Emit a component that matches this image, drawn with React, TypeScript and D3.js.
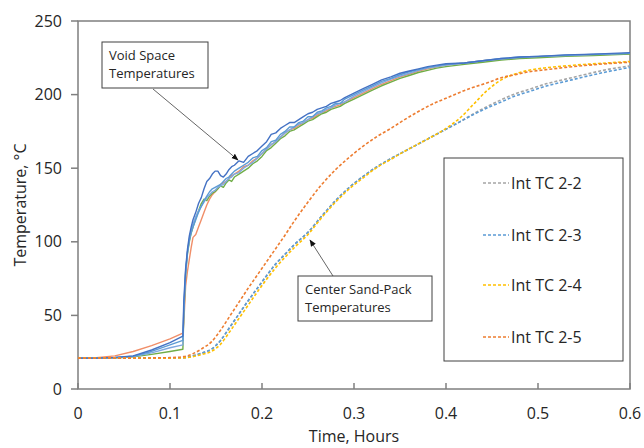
import React from "react";
import * as d3 from "d3";

const solidT = [0, 0.02, 0.04, 0.06, 0.08, 0.1, 0.114,
  0.115, 0.117, 0.119, 0.121, 0.123, 0.125,
  0.128, 0.131, 0.134, 0.137, 0.14, 0.143, 0.146, 0.149, 0.152, 0.155, 0.158, 0.161, 0.164, 0.167, 0.17,
  0.175, 0.18, 0.185, 0.19, 0.195, 0.2, 0.205, 0.21, 0.215, 0.22, 0.225, 0.23, 0.235, 0.24, 0.245, 0.25, 0.255, 0.26, 0.265, 0.27, 0.275, 0.28, 0.285, 0.29,
  0.3, 0.31, 0.32, 0.33, 0.34, 0.35, 0.36, 0.37, 0.38, 0.39, 0.4,
  0.42, 0.44, 0.46, 0.48, 0.5,
  0.53, 0.56, 0.6];

const voidDarkBlue = [21, 21, 21.5, 22.5, 26.5, 31.5, 36,
  60, 82, 95, 104, 110, 115,
  120, 126, 130, 136, 141, 143, 146, 148, 148, 145, 144, 146, 149, 151, 152,
  155, 154, 158, 160, 162, 165, 168, 173, 174, 177, 179, 181, 181, 183, 185, 187, 188, 190, 191, 192, 194, 195, 196, 198,
  201, 204, 207, 210, 212, 214.5, 216, 217.5, 219, 220, 221,
  221.5, 223, 224.5, 225.5, 226,
  227, 227.5, 228.5];

const voidLightBlue = [21, 21, 21.3, 22.3, 25.5, 30, 33,
  55, 80, 93, 101, 106, 110,
  115, 120, 124, 128, 131, 134, 136, 137, 138, 139, 141, 143, 144, 146, 148,
  150, 152, 154, 157, 158, 162, 164, 168, 169, 173, 175, 178, 178, 181, 182, 185, 185, 188, 189, 191, 192, 194, 194, 197,
  200, 203, 206, 209, 211, 213.5, 215.5, 217, 218.5, 219.5, 220.5,
  221.5, 223, 224.5, 225.5, 226,
  226.8, 227.3, 228];

const voidPaleBlue = [21, 21, 21.2, 22.1, 24.5, 28, 30,
  52, 79, 93, 102, 108, 112,
  117, 121, 124, 127, 130, 132, 134, 135, 137, 138, 139, 141, 143, 144, 146,
  147, 150, 152, 154, 157, 160, 163, 166, 168, 171, 174, 176, 178, 180, 181, 183, 185, 187, 188, 190, 191, 193, 194, 195,
  199, 202, 205, 208, 210.5, 212.5, 214.5, 216.5, 218, 219, 220,
  221.5, 223, 224.2, 225.2, 225.8,
  226.6, 227.2, 228];

const voidGreen = [21, 21, 21.1, 21.8, 23.5, 25.5, 27,
  50, 78, 92, 100, 106, 110,
  116, 121, 126, 129, 128, 131, 133, 134, 136, 138, 137, 140, 142, 141, 144,
  146, 148, 150, 153, 155, 158, 162, 164, 167, 170, 172, 175, 176, 178, 180, 182, 183, 185, 187, 188, 190, 191, 192, 194,
  197, 200, 203, 206, 208.5, 211, 213, 215, 216.5, 218, 219,
  220.5, 222, 223.5, 224.5, 225,
  226, 226.5, 227.5];

const voidOrange = [21, 21.2, 22.5, 25.5, 29.5, 34, 38,
  45, 70, 80, 88, 96, 103,
  105, 110, 115, 120, 125, 129, 132, 134, 136, 139, 140, 141, 143, 145, 146,
  148, 151, 152, 155, 157, 160, 163, 166, 168, 171, 174, 176, 177, 179, 181, 183, 184, 186, 188, 189, 191, 192, 193, 195,
  198, 201, 204, 207, 209.5, 212, 214, 216, 217.5, 218.8, 220,
  221.5, 223, 224, 225, 225.8,
  226.5, 227, 227.8];

const dashT = [0, 0.05, 0.1, 0.115, 0.125,
  0.135, 0.145, 0.155, 0.165, 0.175, 0.185, 0.195, 0.205, 0.215, 0.225, 0.235,
  0.25, 0.265, 0.28, 0.295, 0.31, 0.325, 0.34, 0.355, 0.37, 0.385, 0.4, 0.415, 0.43, 0.445, 0.46, 0.475, 0.49,
  0.51, 0.53, 0.55, 0.575, 0.6];

const tc22 = [21, 21, 21, 21.3, 22.5,
  24.5, 27, 33, 42, 51, 60, 68.5, 77, 85, 91.5, 98,
  106.5, 117.5, 128, 137, 144.5, 151, 156.5, 161.5, 166.5, 171.5, 176.5, 181.5, 187, 192, 196.5, 200.5, 203.5,
  207.5, 210.5, 213.5, 217, 219.5];

const tc23 = [21, 21, 21, 21.3, 22.5,
  24.5, 27, 33, 42, 51, 60, 68.5, 77, 85, 91.5, 98,
  106.5, 117.5, 128, 137, 144.5, 151, 156.5, 161.5, 166.5, 171.5, 176.5, 181.5, 186.5, 191, 195, 199, 202,
  206, 209, 212, 215.5, 218.5];

const tc24 = [21, 21, 21, 21.2, 22,
  23.5, 25.5, 30.5, 39, 48, 57, 66, 74.5, 82.5, 89.5, 96,
  105, 116.5, 127, 136, 143.5, 150.5, 156, 161.5, 166.5, 171.5, 177, 184, 193.5, 203, 210, 214, 216.5,
  218.3, 219.5, 220.5, 221.5, 222.5];

const tc25 = [21, 21, 21.3, 22, 24,
  27.5, 32, 40, 49.5, 59, 68.5, 77.5, 86.5, 95.5, 104.5, 114,
  127, 139, 149, 157.5, 165, 171.5, 177, 183, 188.5, 193.5, 197.5, 201.5, 205, 208, 211.5, 213.5, 215.5,
  217, 218.5, 219.7, 221, 222];

const xTicks = [0, 0.1, 0.2, 0.3, 0.4, 0.5, 0.6];
const yTicks = [0, 50, 100, 150, 200, 250];

const solidSeries = [
  { values: voidOrange, color: "#F08E68" },
  { values: voidGreen, color: "#70AD47" },
  { values: voidPaleBlue, color: "#7FA8E0" },
  { values: voidLightBlue, color: "#5B9BD5" },
  { values: voidDarkBlue, color: "#4472C4" },
];

const dashedSeries = [
  { name: "Int TC 2-2", values: tc22, color: "#A5A5A5" },
  { name: "Int TC 2-3", values: tc23, color: "#5B9BD5" },
  { name: "Int TC 2-4", values: tc24, color: "#FFC000" },
  { name: "Int TC 2-5", values: tc25, color: "#ED7D31" },
];

const W = 644, H = 448;
const L = 78, R = 630, T = 21, B = 389;
const FONT = "'Open Sans', sans-serif";
const AX = "#7F7F7F";
const TXT = "#262626";

export default function App() {
  const x = d3.scaleLinear().domain([0, 0.6]).range([L, R]);
  const y = d3.scaleLinear().domain([0, 250]).range([B, T]);
  const mk = (ts: number[], vs: number[], curve: d3.CurveFactory) =>
    d3.line<number>()
      .defined((_, i) => vs[i] != null)
      .x((_, i) => x(ts[i]))
      .y((_, i) => y(vs[i]))
      .curve(curve)(ts) || "";

  return (
    <svg width={W} height={H} style={{ position: "absolute", left: 0, top: 0, background: "#fff" }}
      fontFamily={FONT}>
      <defs>
        <marker id="arr" viewBox="0 0 10 10" refX="9" refY="5" markerWidth="7" markerHeight="7" orient="auto-start-reverse">
          <path d="M0,1 L10,5 L0,9 z" fill="#111" />
        </marker>
      </defs>
      <rect x={0} y={0} width={W} height={H} fill="#fff" />

      {/* frame */}
      <rect x={L} y={T} width={R - L} height={B - T} fill="none" stroke={AX} strokeWidth={1.5} />

      {/* ticks */}
      {yTicks.map((v) => (
        <g key={"y" + v}>
          <line x1={L - 7} x2={L} y1={y(v)} y2={y(v)} stroke={AX} strokeWidth={1.5} />
          <text x={62} y={y(v)} dy="0.35em" textAnchor="end" fontSize={16} fill={TXT}>{v}</text>
        </g>
      ))}
      {xTicks.map((v) => (
        <g key={"x" + v}>
          <line x1={x(v)} x2={x(v)} y1={B} y2={B - 6} stroke={AX} strokeWidth={1.5} />
          <text x={x(v)} y={413} dy="0.35em" textAnchor="middle" fontSize={16} fill={TXT}>{v}</text>
        </g>
      ))}
      <text x={354} y={436} dy="0.35em" textAnchor="middle" fontSize={16} fill={TXT}>Time, Hours</text>
      <text transform={`translate(20,${(T + B) / 2}) rotate(-90)`} dy="0.35em" textAnchor="middle" fontSize={16} fill={TXT}>Temperature, °C</text>

      {/* void space lines */}
      {solidSeries.map((s, i) => (
        <path key={"s" + i} d={mk(solidT, s.values, d3.curveLinear)} fill="none" stroke={s.color} strokeWidth={1.4} strokeLinejoin="round" />
      ))}

      {/* center sand-pack lines */}
      {dashedSeries.map((s, i) => (
        <path key={"d" + i} d={mk(dashT, s.values, d3.curveMonotoneX)} fill="none" stroke={s.color} strokeWidth={1.6} strokeDasharray="3,2" />
      ))}

      {/* annotation 1 */}
      <line x1={153} y1={89} x2={238} y2={160} stroke="#666" strokeWidth={1} markerEnd="url(#arr)" />
      <rect x={102} y={42} width={106} height={46} fill="#fff" stroke="#404040" strokeWidth={1} />
      <text x={109} y={60} fontSize={13} fill={TXT}>Void Space</text>
      <text x={109} y={78} fontSize={13} fill={TXT}>Temperatures</text>

      {/* annotation 2 */}
      <line x1={333} y1={276} x2={310} y2={240} stroke="#666" strokeWidth={1} markerEnd="url(#arr)" />
      <rect x={298} y={276} width={134} height={45} fill="#fff" stroke="#404040" strokeWidth={1} />
      <text x={305} y={294} fontSize={13} fill={TXT}>Center Sand-Pack</text>
      <text x={305} y={312} fontSize={13} fill={TXT}>Temperatures</text>

      {/* legend */}
      <rect x={444} y={158} width={179} height={203} fill="#fff" stroke="#404040" strokeWidth={1} />
      {dashedSeries.map((s, i) => {
        const cy = [183, 235, 285, 337][i];
        return (
          <g key={"l" + i}>
            <line x1={483} x2={509} y1={cy} y2={cy} stroke={s.color} strokeWidth={1.6} strokeDasharray="3,2" />
            <text x={511} y={cy} dy="0.35em" fontSize={16} fill={TXT}>{s.name}</text>
          </g>
        );
      })}
    </svg>
  );
}
